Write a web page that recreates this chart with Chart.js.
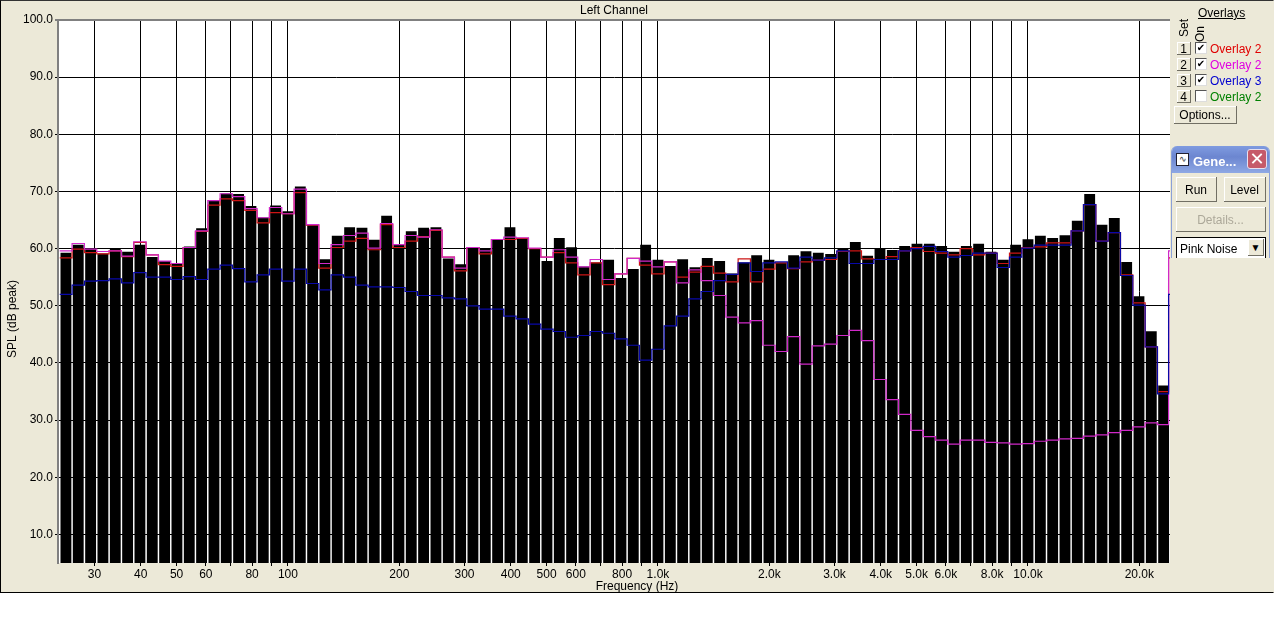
<!DOCTYPE html>
<html><head><meta charset="utf-8">
<script src="https://cdn.jsdelivr.net/npm/chart.js@4"></script>
<style>
html,body{margin:0;padding:0;background:#fff;width:1274px;height:637px;overflow:hidden;font:12px "Liberation Sans",Arial,sans-serif;color:#000}
#panel{position:absolute;left:0;top:0;width:1272px;height:591px;background:#ece9d8;border:1px solid #000;border-right:1px solid #ece9d8;border-top-color:#333}
canvas{position:absolute;left:0;top:0}
.a{position:absolute;white-space:nowrap}
.btn{position:absolute;background:#ece9d8;text-align:center;box-sizing:border-box;box-shadow:inset 1px 1px #fff;border-right:1px solid #716f64;border-bottom:1px solid #716f64}
.cb{position:absolute;left:1195px;width:12px;height:12px;box-sizing:border-box;background:#fff;border:1px solid #555;border-right-color:#ddd;border-bottom-color:#ddd;font:bold 10px/10px "DejaVu Sans";text-align:center}
.ol{position:absolute;left:1210px;line-height:16px}
</style></head><body>
<div id="panel"></div>
<canvas id="c" width="1274" height="637"></canvas>
<div class="a" style="left:1198px;top:6px;text-decoration:underline">Overlays</div>
<div class="a" style="width:16px;transform:rotate(-90deg);transform-origin:center;line-height:14px;text-align:left;left:1176px;top:22px">Set</div>
<div class="a" style="left:1192px;top:27px;transform:rotate(-90deg);line-height:14px">On</div>
<div class="btn" style="left:1177px;top:42px;width:14px;height:13px;line-height:14px">1</div>
<div class="btn" style="left:1177px;top:58px;width:14px;height:13px;line-height:14px">2</div>
<div class="btn" style="left:1177px;top:74px;width:14px;height:13px;line-height:14px">3</div>
<div class="btn" style="left:1177px;top:90px;width:14px;height:13px;line-height:14px">4</div>
<div class="cb" style="top:42px">&#10004;</div>
<div class="cb" style="top:58px">&#10004;</div>
<div class="cb" style="top:74px">&#10004;</div>
<div class="cb" style="top:90px"></div>
<div class="ol" style="top:41px;color:#e00000">Overlay 2</div>
<div class="ol" style="top:57px;color:#e000e0">Overlay 2</div>
<div class="ol" style="top:73px;color:#0000d0">Overlay 3</div>
<div class="ol" style="top:89px;color:#008000">Overlay 2</div>
<div class="btn" style="left:1174px;top:106px;width:63px;height:18px;line-height:19px">Options...</div>
<div class="a" style="left:1171px;top:146px;width:99px;height:112px;background:#ece9d8;box-sizing:border-box;border-left:1px solid #8aa0d8;border-right:1px solid #8aa0d8;border-radius:6px 6px 0 0;overflow:hidden">
  <div style="position:absolute;left:0;top:0;width:100%;height:27px;background:linear-gradient(#7f9be0,#6c86d0 40%,#8ea8e4)"></div>
</div>
<div class="a" style="left:1176px;top:153px;width:13px;height:13px;background:#fff;border:1px solid #223;box-sizing:border-box;font:9px/10px 'Liberation Sans';text-align:center;color:#333">&#8767;</div>
<div class="a" style="left:1193px;top:153px;color:#fff;font-weight:bold;font-size:13px;line-height:18px">Gene...</div>
<div class="a" style="left:1247px;top:149px;width:20px;height:20px;box-sizing:border-box;background:#c65a6a;border:1px solid #e6e0f0;border-radius:3px;color:#fff;font:bold 18px/17px 'DejaVu Sans';text-align:center">&#10005;</div>
<div class="btn" style="left:1176px;top:177px;width:41px;height:25px;line-height:26px">Run</div>
<div class="btn" style="left:1224px;top:177px;width:42px;height:25px;line-height:26px">Level</div>
<div class="btn" style="left:1176px;top:207px;width:90px;height:25px;line-height:26px;color:#aca899">Details...</div>
<div class="a" style="left:1176px;top:237px;width:90px;height:21px;background:#fff;border:1px solid #000;border-bottom:none;box-sizing:border-box;padding-left:3px;line-height:22px;overflow:hidden">Pink Noise</div>
<div class="btn" style="left:1248px;top:239px;width:16px;height:17px;font-size:10px;line-height:17px">&#9660;</div>
<script>
const freqs = [25.12,27.12,29.29,31.62,34.15,36.87,39.81,42.99,46.42,50.12,54.12,58.43,63.10,68.13,73.56,79.43,85.77,92.61,
100,108,116.6,125.9,135.9,146.8,158.5,171.1,184.8,199.5,215.4,232.6,251.2,271.2,292.9,316.2,341.5,368.7,398.1,429.9,464.2,501.2,541.2,584.3,631,681.3,735.6,794.3,857.7,926.1,
1000,1080,1166,1259,1359,1468,1585,1711,1848,1995,2154,2326,2512,2712,2929,3162,3415,3687,3981,4299,4642,5012,5412,5843,6310,6813,7356,7943,8577,9261,
10000,10800,11660,12590,13590,14680,15850,17110,18480,19950,21540,23260];
const levelDb = [59.2,60.6,59.9,59.1,60.0,59.4,60.6,58.5,57.8,57.4,60.3,63.5,68.4,69.6,69.5,67.4,65.4,67.5,66.5,70.8,64.2,
58.1,62.2,63.7,63.6,61.5,65.7,60.6,63.0,63.6,63.7,58.2,57.2,60.0,60.0,61.6,63.7,61.8,60.0,57.8,61.8,60.2,56.8,57.5,58.0,
54.8,56.4,60.6,58.0,56.9,58.1,56.7,58.3,57.8,55.6,57.5,58.8,58.0,57.5,58.8,59.5,59.2,59.0,60.0,61.1,58.7,60.0,59.7,60.4,60.8,60.8,60.4,59.4,60.4,60.8,59.4,58.0,60.6,
61.6,62.2,61.8,62.3,64.8,69.5,64.1,65.3,57.6,51.6,45.5,36.0];
const overlayRed = [58.4,59.9,59.3,59.1,59.6,58.6,61.1,58.9,57.2,56.9,60.2,63.0,67.6,68.7,68.4,66.7,64.5,66.3,66.1,69.8,64.1,
56.6,60.2,61.3,61.8,59.8,64.2,60.2,61.3,62.1,63.2,58.5,56.1,60.2,59.1,61.6,61.6,61.8,60.0,58.5,59.3,57.5,55.4,57.5,53.7,
55.6,58.3,57.1,55.6,57.7,55.0,55.9,56.9,55.7,54.2,58.2,54.2,56.4,57.5,56.5,57.7,58.0,58.1,59.5,59.6,58.2,58.1,58.6,59.6,60.2,59.5,59.2,58.9,60.0,58.9,59.2,57.4,59.2,
60.2,60.3,61.0,61.0,63.1,67.7,61.3,62.8,55.4,50.5,42.8,35.0];
const overlayMagenta = [59.6,60.9,59.9,59.5,59.6,58.7,61.2,58.9,57.8,57.4,60.2,63.1,68.4,69.6,69.1,67.0,65.4,67.2,66.1,70.4,64.2,
57.4,60.7,62.3,62.7,60.1,64.4,60.7,62.3,62.0,63.3,58.5,56.6,60.2,59.6,61.6,62.0,61.9,60.1,58.5,59.8,58.5,56.8,58.1,54.6,
55.6,58.3,57.8,56.8,57.7,54.0,56.3,54.4,51.8,48.0,47.0,47.4,43.1,42.0,44.6,39.8,43.0,43.3,44.8,45.7,43.9,37.1,33.6,31.0,28.2,27.1,26.5,25.8,26.5,26.5,26.1,26.0,25.8,
25.9,26.3,26.5,26.7,26.8,27.2,27.4,27.8,28.2,28.8,29.5,29.2];
const overlayBlue = [52.0,53.6,54.3,54.4,54.7,54.0,55.8,55.0,55.0,54.6,55.1,54.6,56.4,57.1,56.5,54.2,55.4,56.4,54.3,56.4,53.9,
52.8,55.4,55.0,53.6,53.3,53.3,53.2,52.5,51.8,51.8,51.4,51.2,50.0,49.4,49.4,48.2,47.7,46.8,45.9,45.5,44.5,44.8,45.5,45.2,
44.2,43.1,40.5,42.4,46.5,48.2,51.2,52.5,54.4,55.5,57.5,56.0,57.5,57.7,56.6,58.5,58.0,58.4,59.6,57.4,57.4,58.1,58.1,59.6,60.0,60.4,59.5,58.5,58.8,59.2,59.2,56.7,58.5,
60.1,60.6,60.6,60.6,63.1,67.7,61.3,62.8,55.3,50.1,42.8,34.6];
const leftEdgeFreq = 24.17, rightEdgeFreq = 24740;
const xGridFreqs = [30,40,50,60,70,80,90,100,200,300,400,500,600,700,800,900,1000,2000,3000,4000,5000,6000,7000,8000,9000,10000,20000];
const xLabelled = [30,40,50,60,80,100,200,300,400,500,600,800,1000,2000,3000,4000,5000,6000,8000,10000,20000];
const yTicks = [10,20,30,40,50,60,70,80,90,100];
const titleText = 'Left Channel', xTitle = 'Frequency (Hz)', yTitle = 'SPL (dB peak)';
const FONT = '"Liberation Sans", Arial, sans-serif';

// stepped overlays: a short lead-in at the left edge, and a wrap back to the first value at the right edge
const stepped = (vals) => [{x:leftEdgeFreq,y:vals[0]}, ...vals.map((y,i)=>({x:freqs[i],y})), {x:rightEdgeFreq,y:vals[0]}];
const lineDs = (label, vals, color) => ({type:'line',label,data:stepped(vals),stepped:'middle',borderColor:color,borderWidth:1.2,pointRadius:0,fill:false,order:0,tension:0});

const plotBg = {id:'plotBg',beforeDraw(ch){const a=ch.chartArea,c=ch.ctx;c.save();c.fillStyle='#fff';c.fillRect(a.left,a.top,a.right-a.left,a.bottom-a.top);c.restore();}};
const offsetTitles = {id:'offsetTitles',afterDraw(ch){const c=ch.ctx;c.save();c.font='12px '+FONT;c.fillStyle='#000';c.textAlign='center';c.textBaseline='middle';
  c.fillText(xTitle,637,587);c.translate(13,319);c.rotate(-Math.PI/2);c.fillText(yTitle,0,0);c.restore();}};

new Chart(document.getElementById('c'),{
  data:{datasets:[
    lineDs('Overlay 3',overlayBlue,'#0808a8'),
    lineDs('Overlay 2',overlayMagenta,'#d028c8'),
    lineDs('Overlay 2',overlayRed,'#cc1414'),
    {type:'bar',label:'Level',data:levelDb.map((y,i)=>({x:freqs[i],y})),backgroundColor:'#000',barThickness:10.2,grouped:false,order:1}
  ]},
  options:{
    responsive:false,animation:false,devicePixelRatio:1,
    layout:{padding:{left:0,right:104,top:0,bottom:0}},
    plugins:{legend:{display:false},tooltip:{enabled:false},
      title:{display:true,text:titleText,fullSize:false,color:'#000',font:{family:FONT,size:12,weight:'normal',lineHeight:1.2},padding:{top:3,bottom:2.6}}},
    scales:{
      x:{type:'logarithmic',min:23.91,max:24200,offset:false,
        afterBuildTicks(s){s.ticks=xGridFreqs.map(v=>({value:v}));},
        afterFit(s){s.height=74;},
        grid:{offset:false,color:'#000',lineWidth:1,tickLength:3,drawOnChartArea:true},border:{display:false},
        ticks:{autoSkip:false,minRotation:0,maxRotation:0,padding:1,color:'#000',font:{family:FONT,size:12},
          callback(v){if(!xLabelled.includes(v))return '';return v>=1000?(v/1000).toFixed(1)+'k':String(v);}}},
      y:{type:'linear',min:5,max:100,
        afterBuildTicks(s){s.ticks=yTicks.map(v=>({value:v}));},
        afterFit(s){s.width=58;},
        grid:{color:c=>c.tick&&c.tick.value===100?'#808080':'#000',lineWidth:c=>c.tick&&c.tick.value===100?2:1,tickLength:3},
        border:{display:true,color:'#808080',width:2},
        ticks:{padding:2,color:'#000',font:{family:FONT,size:12},callback:v=>v.toFixed(1)}}
    }
  },
  plugins:[plotBg,offsetTitles]
});
</script>
</body></html>
